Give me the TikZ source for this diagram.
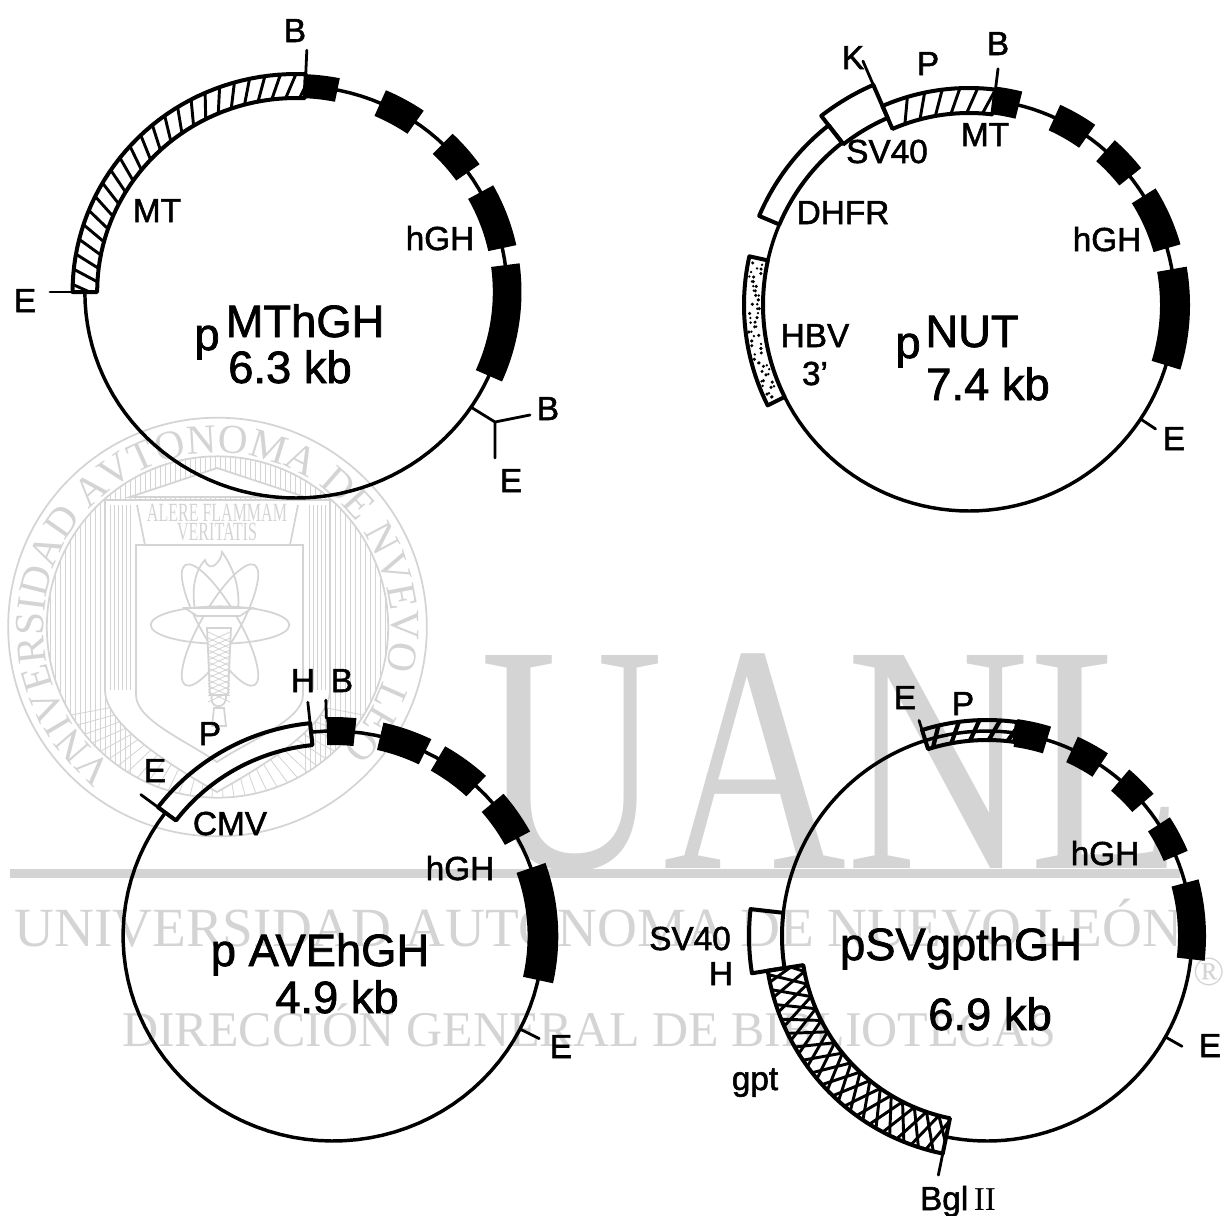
\documentclass[tikz,border=0pt]{standalone}
\usepackage{fontspec}
\usepackage{graphicx}
\setmainfont{Liberation Sans}[FakeBold=1.6]
\newfontfamily\wmfont{Liberation Serif}
\usetikzlibrary{decorations.text}
\definecolor{wm}{gray}{0.83}
\newcommand{\sz}[1]{\fontsize{#1}{#1}\selectfont}
\newcommand{\sealfont}{\color{wm}\wmfont\fontsize{31}{31}\selectfont}
% polar helpers: math angle, radius, around (\cx,\cy), x stretched by \kx
\def\kx{1}
\newcommand{\bandpath}[5]{\path[#1] plot[domain=#2:#3,samples=40,variable=\ang] ({\cx+\kx*(#4)*cos(\ang)},{\cy-(#4)*sin(\ang)}) -- plot[domain=#3:#2,samples=40,variable=\ang] ({\cx+\kx*(#5)*cos(\ang)},{\cy-(#5)*sin(\ang)}) -- cycle;}
\newcommand{\arcline}[3]{\draw[ring] plot[domain=#1:#2,samples=90,variable=\ang] ({\cx+\kx*(#3)*cos(\ang)},{\cy-(#3)*sin(\ang)});}
\newcommand{\radial}[3]{\draw[tick] ({\cx+\kx*(#2)*cos(#1)},{\cy-(#2)*sin(#1)}) -- ({\cx+\kx*(#3)*cos(#1)},{\cy-(#3)*sin(#1)});}
\newcommand{\exon}[3]{\bandpath{fill=black}{#1}{#2}{\rr-#3}{\rr+#3}}
\newcommand{\slants}[7]{\foreach \h in {#2,#3,...,#4}{\draw[#1] ({\cx+\kx*(#5)*cos(\h)},{\cy-(#5)*sin(\h)}) -- ({\cx+\kx*(#6)*cos(\h-(#7))},{\cy-(#6)*sin(\h-(#7))});}}
\tikzset{
 ring/.style={line width=2.6pt,line join=round},
 tick/.style={line width=2.1pt,line cap=round},
 outline/.style={draw=black,line width=3pt,line join=round},
 hatchline/.style={line width=2.2pt},
 lab/.style={inner sep=0pt,anchor=base,font=\sz{25}},
 big/.style={inner sep=0pt,anchor=base,font=\sz{34}},
 wmline/.style={draw=wm,line width=1.3pt},
 wmthin/.style={draw=wm,line width=0.6pt},
 wmtext/.style={inner sep=0pt,anchor=base,text=wm,font=\wmfont},
}
\begin{document}
\begin{tikzpicture}[x=.75pt,y=-.75pt]
\useasboundingbox (0,0) rectangle (1226,1215);
\fill[white] (0,0) rectangle (1226,1215);
% ---------- watermark: seal
\def\cx{217.5}\def\cy{627}
\begin{scope}
 \clip (\cx,\cy) circle[radius=127.5pt];
 \foreach \xx in {50,55,...,130}{\draw[wmthin] (\xx,440) -- (\xx,800);}
 \foreach \xx in {305,310,...,385}{\draw[wmthin] (\xx,440) -- (\xx,800);}
 \foreach \xx in {135,140,...,300}{\draw[wmthin] (\xx,455) -- (\xx,520);}
 \foreach \a in {208,212,...,332}{\draw[wmthin] ({\cx},{\cy+60}) -- ({\cx+200*cos(\a)},{\cy-200*sin(\a)});}
\end{scope}
\draw[wmline,fill=white] (105,500) -- (105,690) .. controls (105,725) and (170,765) .. (217,792) .. controls (265,765) and (330,725) .. (330,690) -- (330,500) -- cycle;
\draw[wmline,fill=white] (130,497) -- (217,468) -- (305,497) -- cycle;
\draw[wmline] (137,505) -- (145,545) (298,505) -- (290,545) (130,500) -- (305,500);
\draw[wmline] (136,545) -- (303,545) -- (303,695) .. controls (303,720) and (250,740) .. (217,762) .. controls (185,740) and (136,720) .. (136,695) -- cycle;
\foreach \xx in {110,114,...,130}{\draw[wmthin] (\xx,505) -- (\xx,690);}
\foreach \xx in {309,313,...,329}{\draw[wmthin] (\xx,505) -- (\xx,690);}
\path[decorate,decoration={text along path,text align=center,text={|\sealfont|VNIVERSIDAD AVTONOMA DE NVEVO LEON}}] plot[domain=226:-46,samples=80,variable=\ang] ({\cx+174*cos(\ang)},{\cy-174*sin(\ang)});
\draw[wmline] (\cx,\cy) circle[radius=157pt];
\draw[wmline] (\cx,\cy) circle[radius=128pt];
\node[wmtext] (alere) at (217,521) {\resizebox{105pt}{13pt}{ALERE FLAMMAM}};
\node[wmtext] (veritatis) at (217,540) {\resizebox{60pt}{13pt}{VERITATIS}};
\foreach \a in {0,60,120}{\draw[wmline,rotate around={\a:(220,625)}] (220,625) ellipse[x radius=52pt,y radius=-14pt];}
\draw[wmline] (195,610) .. controls (190,580) and (200,565) .. (205,560) .. controls (210,575) and (222,560) .. (222,552) .. controls (235,570) and (240,590) .. (238,610);
\draw[wmline,fill=white] (185,608) -- (252,608) -- (240,616) -- (197,616) -- cycle;
\draw[wmline,fill=white] (207,628) -- (231,628) -- (228,695) -- (210,695) -- cycle;
\foreach \yy in {632,638,...,692}{\draw[wmthin] (208,\yy) -- (230,\yy+10) (230,\yy) -- (208,\yy+10);}
\draw[wmline] (212,695) .. controls (208,710) and (228,710) .. (226,695) (214,708) -- (224,708) -- (226,726) -- (212,726) -- cycle;
% ---------- watermark: letters
\node[wmtext,anchor=base west] (uanl) at (480,868) {\scalebox{.78}[1]{\sz{244}UANL}};
\fill[wm] (10,869) rectangle (1180,878);
\node[wmtext,anchor=base west] (univ) at (14,946) {\resizebox{876pt}{!}{UNIVERSIDAD AUTONOMA DE NUEVO LEÓN}};
\node[wmtext,anchor=base west] (dir) at (122,1046) {\resizebox{700pt}{!}{DIRECCIÓN GENERAL DE BIBLIOTECAS}};
\node[wmtext] (reg) at (1209,985) {\sz{31}®};
% ---------- pMThGH
\def\cx{296}\def\cy{292}\def\rr{206}\def\kx{1.025}
\arcline{180}{447}{\rr}
\begin{scope}
 \bandpath{clip}{180}{87.5}{194}{218}
 \slants{hatchline}{89}{93}{181}{194}{218}{3}
\end{scope}
\bandpath{outline}{180}{87.5}{194}{218}
\exon{87.5}{78.7}{12}
\exon{66.5}{55.5}{14}
\exon{46}{35.5}{14}
\exon{29}{12.3}{14}
\exon{7.5}{-24}{14}
\coordinate (f1a) at ({\cx+\kx*\rr*cos(-34)},{\cy-\rr*sin(-34)});
\coordinate (f1j) at (495,422);
\coordinate (f1b) at (530,415);
\coordinate (f1e) at (495,458);
\draw[tick] (f1a) -- (f1j) -- (f1b) (f1j) -- (f1e);
\radial{87.5}{212}{242}
\radial{180}{206}{240}
\node[lab] (a1) at (295,42) {B};
\node[lab] (a2) at (440,250) {hGH};
\node[lab] (a3) at (157,222) {MT};
\node[lab] (a4) at (25,312) {E};
\node[big] (a5) at (207,350) {p};
\node[big] (a6) at (305,337) {MThGH};
\node[big] (a7) at (290,383) {6.3 kb};
\node[lab] (a8) at (548,420) {B};
\node[lab] (a9) at (511,492) {E};
% ---------- pNUT
\def\cx{969}\def\cy{305}\def\rr{206}\def\kx{1}
\arcline{206.5}{442.5}{\rr}
\arcline{157}{167.5}{\rr}
\begin{scope}
 \bandpath{clip}{113.5}{83}{192}{217}
 \slants{hatchline}{86}{90.7}{113}{192}{217}{3}
\end{scope}
\bandpath{outline}{113.5}{83}{192}{217}
\bandpath{outline}{128}{113.5}{204}{240}
\bandpath{outline}{157}{128}{206}{228}
\bandpath{outline}{206.5}{167.5}{206}{225}
\pgfmathsetseed{7}
\foreach \h in {169,170.2,...,205}{
  \pgfmathsetmacro{\dr}{209+rnd*13}
  \fill ({\cx+\dr*cos(\h)},{\cy-\dr*sin(\h)}) circle[radius=1.3pt];
  \pgfmathsetmacro{\dr}{209+rnd*13}
  \fill ({\cx+\dr*cos(\h)},{\cy-\dr*sin(\h)}) circle[radius=1pt];
}
\exon{83}{76}{14}
\exon{65.5}{55}{14}
\exon{48.5}{38.5}{14}
\exon{32}{16}{14}
\exon{10}{-17}{15}
\radial{113.5}{238}{266}
\radial{83}{215}{238}
\radial{-33.6}{206}{224}
\node[lab] (b1) at (853,69) {K};
\node[lab] (b2) at (928,75) {P};
\node[lab] (b3) at (998,55) {B};
\node[lab] (b4) at (985,146) {MT};
\node[lab] (b5) at (887,163) {SV40};
\node[lab] (b6) at (843,224) {DHFR};
\node[lab] (b7) at (1107,251) {hGH};
\node[lab] (b8) at (815,347) {HBV};
\node[lab] (b9) at (815,385) {3'};
\node[big] (b10) at (908,358) {p};
\node[big] (b11) at (972,347) {NUT};
\node[big] (b12) at (988,400) {7.4 kb};
\node[lab] (b13) at (1174,450) {E};
% ---------- pAVEhGH
\def\cx{333}\def\cy{936}\def\rr{205}\def\kx{1.024}
\arcline{143}{456}{\rr}
\bandpath{outline}{96}{143}{214}{192}
\exon{91.7}{84}{14}
\exon{77}{64}{14}
\exon{60}{47}{14}
\exon{40.5}{28.5}{14}
\exon{19.4}{-12.4}{15}
\radial{143}{192}{235}
\radial{96}{192}{235}
\radial{91.7}{218}{236}
\radial{-27}{205}{226}
\node[lab] (c1) at (303,692) {H};
\node[lab] (c2) at (342,692) {B};
\node[lab] (c3) at (210,745) {P};
\node[lab] (c4) at (155,782) {E};
\node[lab] (c5) at (230,835) {CMV};
\node[lab] (c6) at (460,880) {hGH};
\node[big] (c7) at (320,966) {p AVEhGH};
\node[big] (c8) at (337,1013) {4.9 kb};
\node[lab] (c9) at (561,1058) {E};
% ---------- pSVgpthGH
\def\cx{987}\def\cy{936}\def\rr{205}\def\kx{1}
\arcline{258.5}{467.5}{\rr}
\arcline{107.5}{173.5}{\rr}
\begin{scope}
 \bandpath{clip}{107.5}{82}{196}{216}
 \slants{line width=3.2pt}{84}{89.5}{107}{196}{216}{3}
\end{scope}
\bandpath{outline}{107.5}{82}{196}{216}
\begin{scope}
 \bandpath{clip}{189}{258.5}{186}{222}
 \slants{hatchline}{187}{191}{262}{186}{222}{5}
 \slants{hatchline}{187}{191}{262}{186}{222}{-5}
\end{scope}
\bandpath{outline}{189}{258.5}{186}{222}
\bandpath{outline}{173.5}{189}{205}{238}
\exon{82}{73}{14}
\exon{65.5}{56.5}{14}
\exon{49.5}{40.5}{14}
\exon{33}{23}{13}
\exon{15}{-6.5}{14}
\radial{107.5}{196}{226}
\radial{258.5}{186}{244}
\radial{-29.5}{205}{224}
\node[lab] (d1) at (905,709) {E};
\node[lab] (d2) at (963,715) {P};
\node[lab] (d3) at (1105,865) {hGH};
\node[lab] (d4) at (690,950) {SV40};
\node[lab] (d5) at (721,985) {H};
\node[big] (d6) at (961,960) {pSVgpthGH};
\node[big] (d7) at (990,1030) {6.9 kb};
\node[lab] (d8) at (755,1090) {gpt};
\node[lab] (d9) at (958,1210) {Bgl\,{\wmfont II}};
\node[lab] (d10) at (1210,1057) {E};
\end{tikzpicture}
\end{document}
